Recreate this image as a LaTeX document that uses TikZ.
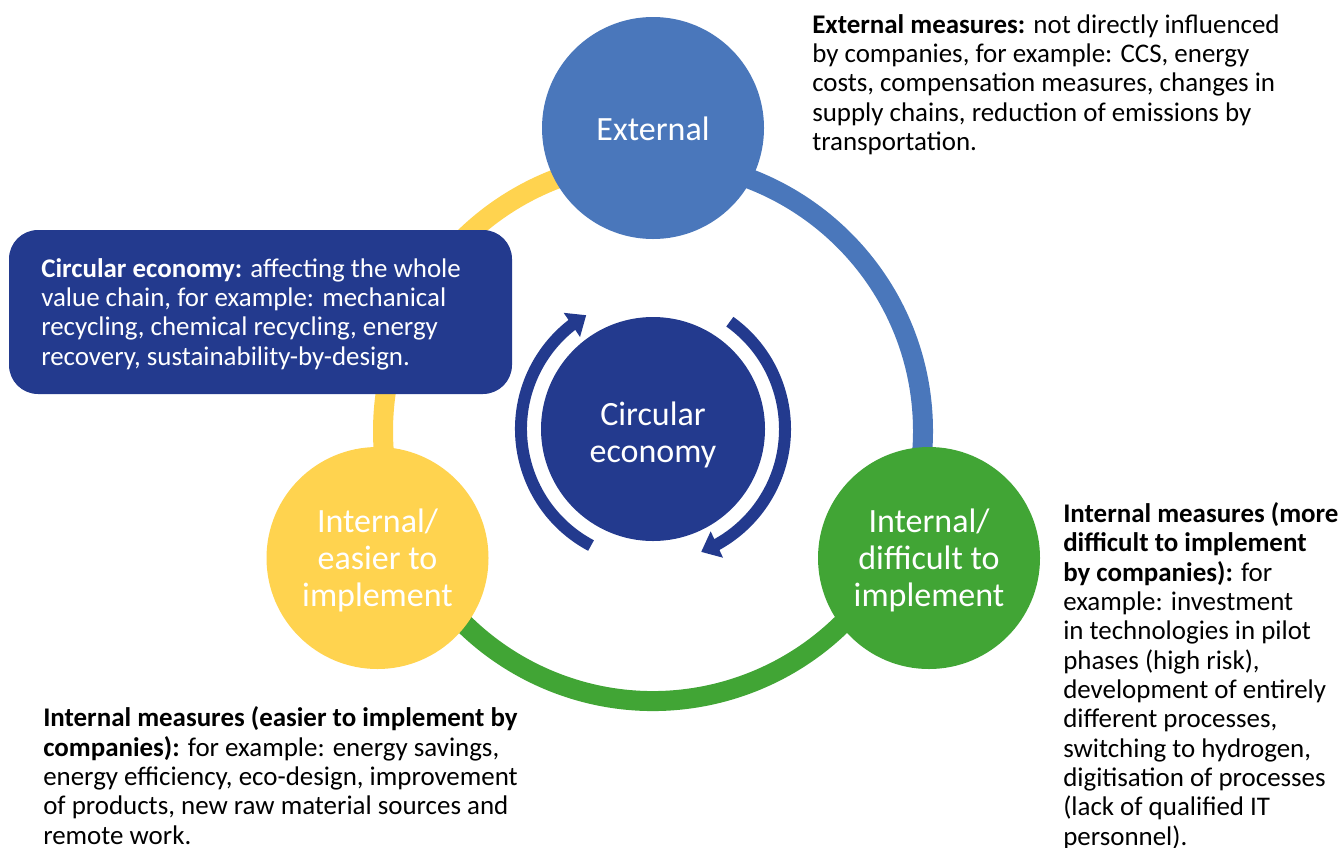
\documentclass[tikz,border=0pt]{standalone}
\usepackage{fontspec}
\setmainfont{Carlito}
\usetikzlibrary{arrows.meta,bending}
\definecolor{extblue}{HTML}{4A77BB}
\definecolor{darkblue}{HTML}{233A8E}
\definecolor{ylw}{HTML}{FFD34F}
\definecolor{grn}{HTML}{41A535}
\begin{document}
\begin{tikzpicture}[x=0.75pt,y=0.75pt,
  ringline/.style={line width=15pt},
  circ/.style={circle,inner sep=0pt,minimum size=166.5pt},
  circlabel/.style={inner sep=0pt,text=white,align=center,
    font=\fontsize{25.5pt}{27.9pt}\selectfont},
  bodytext/.style={inner sep=0pt,align=left,anchor=base west,
    font=\fontsize{20.2pt}{22pt}\selectfont},
  cyc/.style={draw=darkblue,line width=9pt,-{Triangle[width=21pt,length=13pt]}},
  cebox/.style={fill=darkblue,rounded corners=21.75pt,minimum width=377.25pt,minimum height=123pt,inner sep=0pt}
]
\useasboundingbox (0,0) rectangle (1344,-847);
\coordinate (O) at (653,-431);
\coordinate (C) at (653,-429);
% ring
\draw[ringline,extblue] (O) ++(92:270) arc[start angle=92,end angle=-26,radius=270];
\draw[ringline,grn] (O) ++(-24.8:270) arc[start angle=-24.8,end angle=-155.2,radius=270];
\draw[ringline,ylw] (O) ++(204.8:270) arc[start angle=204.8,end angle=92,radius=270];
% circles
\node[circ,fill=extblue] (ext) at (653,-128) {};
\node[circ,fill=ylw] (easy) at (377.5,-558) {};
\node[circ,fill=grn] (hard) at (929,-558) {};
\node[circ,fill=darkblue,minimum size=168pt] (ce) at (C) {};
\node[circlabel] (extlabel) at ([yshift=-0.5pt]ext.center) {External};
\node[circlabel] (easylabel) at ([yshift=-2pt]easy.center) {Internal/\\easier to\\implement};
\node[circlabel] (hardlabel) at ([yshift=-2pt]hard.center) {Internal/\\difficult to\\implement};
\node[circlabel] (celabel) at ([yshift=-4.5pt]ce.center) {Circular\\economy};
% cycle arrows
\draw[cyc] (C) ++(242:132) arc[start angle=242,end angle=120.4,radius=132];
\draw[cyc] (C) ++(54.4:132) arc[start angle=54.4,end angle=-68.6,radius=132];
% box
\node[cebox] (box) at (260.5,-312) {};
\node[bodytext,text=white] (boxtext) at (41,-365) {\textbf{Circular economy:} affecting the whole\\value chain, for example: mechanical\\recycling, chemical recycling, energy\\recovery, sustainability-by-design.};
% texts
\node[bodytext] (exttext) at (812,-150.5) {\textbf{External measures:} not directly influenced\\by companies, for example: CCS, energy\\costs, compensation measures, changes in\\supply chains, reduction of emissions by\\transportation.};
\node[bodytext] (easytext) at (43,-844) {\textbf{Internal measures (easier to implement by}\\\textbf{companies):} for example: energy savings,\\energy efficiency, eco-design, improvement\\of products, new raw material sources and\\remote work.};
\node[bodytext] (hardtext) at (1063,-845) {\textbf{Internal measures (more}\\\textbf{difficult to implement}\\\textbf{by companies):} for\\example: investment\\in technologies in pilot\\phases (high risk),\\development of entirely\\different processes,\\switching to hydrogen,\\digitisation of processes\\(lack of qualified IT\\personnel).};
\end{tikzpicture}
\end{document}
